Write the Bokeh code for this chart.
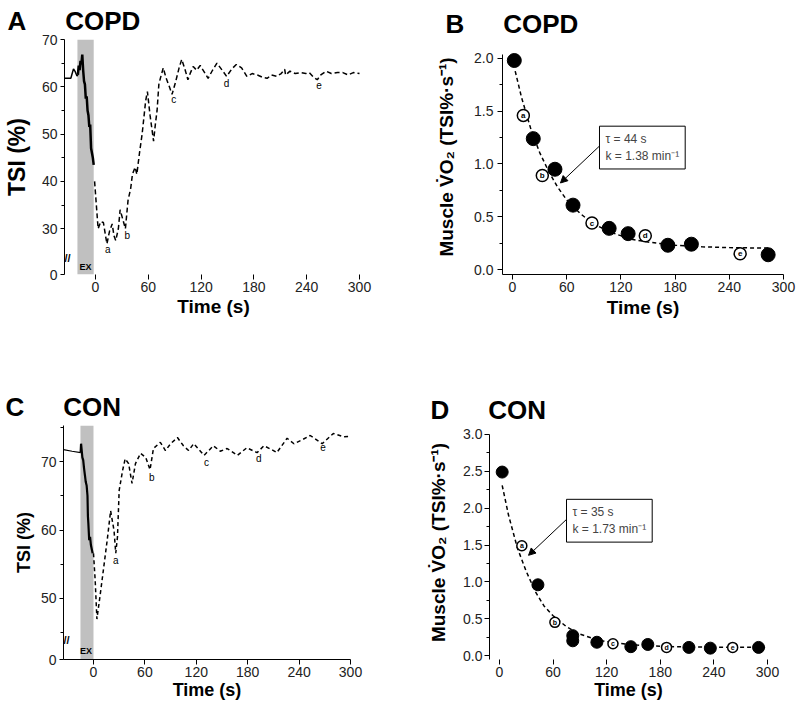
from bokeh.plotting import figure
from bokeh.layouts import column, row
from bokeh.models import (Range1d, FixedTicker, Label, BoxAnnotation, Arrow,
                          NormalHead, NumeralTickFormatter)
from bokeh.embed import file_html
from bokeh.resources import INLINE
from bokeh.core.properties import value

FONT = "Liberation Sans"
GAP = "\u2002\u2002\u2002"

# ---------------- data: panel A (COPD, TSI trace) ----------------
A_pre_t = [-35, -28, -25, -23, -21, -20]
A_pre_v = [61.8, 61.8, 63.8, 63.2, 62.3, 62.5]
A_ex_t = [-20, -19, -18, -17, -16, -15, -14, -13, -12, -11, -10, -9, -8, -7, -6, -5, -4, -3, -2]
A_ex_v = [62.5, 64.5, 63.5, 65.5, 64.8, 66.8, 63.5, 61.2, 60.5, 57.5, 58, 55, 54, 51.5, 52, 47, 46, 45, 43.5]
A_rec_t = [-1, 1, 3, 6, 9, 11, 13, 16, 19, 21,
           23, 26, 28, 31, 34, 37, 40, 42, 45, 47,
           50, 53, 57, 59, 62, 66, 68, 70, 72, 74,
           77, 80, 84, 87, 91, 95, 98, 102, 105, 108,
           111, 115, 119, 124, 128, 133, 138, 144, 149, 155,
           160, 166, 172, 178, 184, 190, 195, 200, 206, 211,
           215, 216, 221, 227, 233, 239, 243, 248, 252, 256,
           262, 268, 275, 281, 287, 293, 300]
A_rec_v = [40, 35, 30, 31.5, 31.3, 29, 26.8, 29.5, 31, 28.5,
           27.5, 30, 34, 32, 30, 36, 38.5, 41.5, 43, 41.5,
           46, 50, 57, 59, 54, 48.5, 52, 55, 60.5, 62,
           64, 62, 60, 58.4, 61, 64, 65.8, 63.5, 61.5, 63,
           64.3, 63.5, 64.5, 63, 61.8, 63.5, 65, 63.5, 62.2, 63.8,
           64.7, 64, 62.2, 62.8, 62.5, 62, 61.8, 62.5, 62.2, 62.8,
           63.7, 62.5, 63.3, 62.8, 63, 62.8, 63, 62, 61.5, 62.5,
           63.3, 62.8, 63, 63, 62.5, 63, 62.8]
A_ex_period = [-20.5, -2]
A_letters = ["a", "b", "c", "d", "e"]
A_letter_t = [14, 36, 89, 149, 254]
A_letter_v = [25.7, 28.5, 57.3, 60.8, 60.3]
A_xticks = [0, 60, 120, 180, 240, 300]
A_yticks = [30, 40, 50, 60, 70]
A_yminor = [35, 45, 55, 65]

# ---------------- data: panel B (COPD, muscle VO2) ----------------
B_fill_t = [2, 23, 47, 67, 107, 128, 172, 198, 283]
B_fill_v = [1.98, 1.24, 0.95, 0.61, 0.39, 0.34, 0.23, 0.24, 0.14]
B_open_t = [12, 33, 88, 147, 252]
B_open_v = [1.46, 0.89, 0.44, 0.32, 0.15]
B_open_lab = ["a", "b", "c", "d", "e"]
B_fit_t = [3, 10, 20, 30, 40, 50, 60, 75, 90, 110, 130, 150, 180, 210, 240, 270, 285]
B_fit_v = [1.88, 1.63, 1.34, 1.11, 0.93, 0.78, 0.66, 0.53, 0.43, 0.35, 0.29, 0.26, 0.23, 0.215, 0.208, 0.204, 0.203]
B_text = "\u03c4 = 44 s\nk = 1.38 min\u207b\u00b9"
B_xticks = [0, 60, 120, 180, 240, 300]
B_yticks = [0.0, 0.5, 1.0, 1.5, 2.0]
B_yminor = [0.25, 0.75, 1.25, 1.75]

# ---------------- data: panel C (CON, TSI trace) ----------------
C_pre_t = [-35, -25, -15]
C_pre_v = [71.75, 71.5, 71.3]
C_ex_t = [-15, -14.5, -13, -12, -11, -10, -9, -8, -7, -6.5, -6, -5, -4, -3, -2, -1]
C_ex_v = [71.3, 72.6, 70.6, 70.2, 69, 68, 67, 66.5, 65, 62, 61, 58.5, 59, 57.8, 57.2, 56.6]
C_rec_t = [0, 2, 4, 8, 12, 16, 20, 24, 26, 28,
           30, 34, 37, 41, 45, 49, 55, 61, 66, 70,
           78, 84, 90, 98, 105, 111, 117, 129, 140, 148,
           156, 168, 179, 191, 199, 207, 214, 226, 234, 244,
           253, 267, 280, 292, 300]
C_rec_v = [56.6, 52.6, 47.0, 50.7, 54.6, 58.5, 62.8, 59.9, 56.6, 59,
           65.8, 68.7, 70.4, 69.7, 66.8, 69.7, 71.2, 70.6, 68.8, 71.9,
           72.8, 71.6, 72.6, 73.5, 72.3, 71.6, 72.6, 70.9, 72.3, 71.5,
           71.9, 70.9, 72, 71.3, 72.3, 71.8, 71.3, 73.4, 72.6, 73.2,
           73.8, 72.6, 74.1, 73.6, 73.7]
C_ex_period = [-15.2, 0]
C_letters = ["a", "b", "c", "d", "e"]
C_letter_t = [26, 68, 132, 193, 268]
C_letter_v = [55.6, 67.7, 69.8, 70.4, 72.1]
C_xticks = [0, 60, 120, 180, 240, 300]
C_yticks = [50, 60, 70]
C_yminor = [45, 55, 65, 75]

# ---------------- data: panel D (CON, muscle VO2) ----------------
D_fill_t = [3, 43, 82, 82, 109, 147, 166, 212, 236, 290]
D_fill_v = [2.49, 0.96, 0.27, 0.20, 0.18, 0.12, 0.15, 0.11, 0.10, 0.11]
D_open_t = [25, 62, 127, 187, 261]
D_open_v = [1.49, 0.45, 0.16, 0.11, 0.11]
D_open_lab = ["a", "b", "c", "d", "e"]
D_fit_t = [3, 10, 20, 30, 40, 50, 60, 75, 90, 110, 130, 160, 200, 250, 300]
D_fit_v = [2.31, 1.91, 1.46, 1.14, 0.87, 0.67, 0.54, 0.39, 0.29, 0.21, 0.17, 0.135, 0.118, 0.112, 0.11]
D_text = "\u03c4 = 35 s\nk = 1.73 min\u207b\u00b9"
D_xticks = [0, 60, 120, 180, 240, 300]
D_yticks = [0.0, 0.5, 1.0, 1.5, 2.0, 2.5, 3.0]
D_yminor = [0.25, 0.75, 1.25, 1.75, 2.25, 2.75]

VO2_LABEL = "Muscle V\u0307O\u2082 (TSI%\u00b7s\u207b\u00b9)"


def base_fig(w, h, bl, br, bt, bb, xr, yr, xticks, yticks, yminor, title, t_off, t_stand,
             x_line=True):
    p = figure(width=w, height=h, x_range=Range1d(*xr), y_range=Range1d(*yr),
               output_backend="svg", toolbar_location=None, title=title,
               min_border_left=bl, min_border_right=br,
               min_border_top=bt, min_border_bottom=bb)
    p.title.align = "left"
    p.title.offset = t_off
    p.title.standoff = t_stand
    p.title.text_font = FONT
    p.title.text_font_size = "26px"
    p.title.text_font_style = "bold"
    p.title.text_color = "black"
    p.outline_line_color = None
    p.xgrid.grid_line_color = None
    p.ygrid.grid_line_color = None
    p.xaxis.ticker = FixedTicker(ticks=xticks)
    p.yaxis.ticker = FixedTicker(ticks=yticks, minor_ticks=yminor)
    for ax in (p.xaxis[0], p.yaxis[0]):
        ax.axis_line_color = "black"
        ax.axis_line_width = 1
        ax.major_tick_in = 0
        ax.major_tick_out = 5
        ax.minor_tick_in = 0
        ax.minor_tick_out = 3
        ax.major_tick_line_color = "black"
        ax.minor_tick_line_color = "black"
        ax.major_label_text_font = FONT
        ax.major_label_text_font_size = "14px"
        ax.major_label_text_color = "#222222"
        ax.axis_label_text_font = FONT
        ax.axis_label_text_font_style = "bold"
        ax.axis_label_text_color = "black"
        ax.major_label_standoff = 3
    p.xaxis.minor_tick_line_color = None
    p.xaxis.major_label_standoff = 2
    if not x_line:
        p.xaxis.axis_line_color = None
    return p


def letters(p, xs, ys, labs, size="10px", bold=False, align="center"):
    p.text(x=xs, y=ys, text=labs, text_font=value(FONT), text_font_size=value(size),
           text_font_style="bold" if bold else "normal",
           text_align=align, text_baseline="middle", text_color="black")


# ================= Panel A =================
A_xr = (-35.2, 303.4)
A_yr = (20.32, 70)
pA = base_fig(400, 348, 64, 38, 38, 74, A_xr, A_yr, A_xticks, [A_yr[0]] + A_yticks, A_yminor,
              "A" + GAP + "COPD", -57, 7, x_line=False)
pA.yaxis.formatter = NumeralTickFormatter(format="0")
pA.yaxis.major_label_overrides = {A_yr[0]: "0"}
pA.xaxis.axis_label = "Time (s)"
pA.yaxis.axis_label = "TSI (%)"
pA.xaxis.axis_label_text_font_size = "19px"
pA.yaxis.axis_label_text_font_size = "23px"
pA.xaxis.axis_label_standoff = 1
pA.yaxis.axis_label_standoff = 9
pA.yaxis.major_tick_out = 4
pA.add_layout(BoxAnnotation(left=A_ex_period[0], right=A_ex_period[1], fill_color="#c0c0c0",
                            fill_alpha=1, line_color=None, level="underlay"))
pA.line(A_pre_t, A_pre_v, line_color="black", line_width=1.5)
pA.line(A_ex_t, A_ex_v, line_color="black", line_width=2.5)
pA.line(A_rec_t, A_rec_v, line_color="black", line_width=1.5, line_dash="5 3")
letters(pA, A_letter_t, A_letter_v, A_letters)
letters(pA, [-11.4], [22.0], ["EX"], size="9px", bold=True)
letters(pA, [A_xr[0]], [23.9], ["//"], size="11px", bold=True, align="left")

# ================= Panel B =================
B_yr = (-0.047, 2.179)
pB = base_fig(400, 348, 102, 17, 38, 74, (-11.07, 300), B_yr, B_xticks, B_yticks, B_yminor,
              "B" + GAP + "COPD", -57, 1, x_line=True)
pB.yaxis.bounds = (B_yr[0], 2.038)
pB.yaxis.formatter = NumeralTickFormatter(format="0.0")
pB.xaxis.axis_label = "Time (s)"
pB.yaxis.axis_label = VO2_LABEL
pB.xaxis.axis_label_text_font_size = "19px"
pB.yaxis.axis_label_text_font_size = "19px"
pB.xaxis.axis_label_standoff = 2
pB.yaxis.axis_label_standoff = 14
pB.yaxis.major_label_standoff = 4
pB.line(B_fit_t, B_fit_v, line_color="black", line_width=1.5, line_dash="4 3")
pB.scatter(B_fill_t, B_fill_v, size=14, marker="circle", fill_color="black", line_color="black")
pB.scatter(B_open_t, B_open_v, size=12, marker="circle", fill_color="white",
           line_color="black", line_width=1.5)
letters(pB, B_open_t, B_open_v, B_open_lab, size="8px", bold=True)
pB.add_layout(Arrow(end=NormalHead(size=7, fill_color="black", line_color="black"),
                    x_start=96.3, y_start=1.17, x_end=53.1, y_end=0.82,
                    line_color="black", line_width=1))
pB.add_layout(Label(x=96.3, y=1.358, text=B_text, text_font=FONT, text_font_size="12px",
                    text_align="left", text_baseline="top", border_line_color="black",
                    border_line_width=1, background_fill_color="white", padding=6))

# ================= Panel C =================
C_yr = (41.09, 75.26)
pC = base_fig(400, 360, 63, 50, 77, 49, (-35, 300), C_yr, C_xticks, [C_yr[0]] + C_yticks, C_yminor,
              "C" + GAP + "CON", -58, 8, x_line=True)
pC.yaxis.formatter = NumeralTickFormatter(format="0")
pC.yaxis.major_label_overrides = {C_yr[0]: "0"}
pC.xaxis.axis_label = "Time (s)"
pC.yaxis.axis_label = "TSI (%)"
pC.xaxis.axis_label_text_font_size = "18px"
pC.yaxis.axis_label_text_font_size = "18px"
pC.xaxis.axis_label_standoff = 0
pC.yaxis.axis_label_standoff = 4
pC.yaxis.major_tick_out = 4
pC.add_layout(BoxAnnotation(left=C_ex_period[0], right=C_ex_period[1], fill_color="#c0c0c0",
                            fill_alpha=1, line_color=None, level="underlay"))
pC.line(C_pre_t, C_pre_v, line_color="black", line_width=1.2)
pC.line(C_ex_t, C_ex_v, line_color="black", line_width=2.2)
pC.line(C_rec_t, C_rec_v, line_color="black", line_width=1.5, line_dash="4 3")
letters(pC, C_letter_t, C_letter_v, C_letters)
letters(pC, [-8.75], [42.3], ["EX"], size="9px", bold=True)
letters(pC, [-35], [43.87], ["//"], size="11px", bold=True, align="left")

# ================= Panel D =================
D_yr = (-0.054, 3.122)
pD = base_fig(400, 360, 89, 33, 77, 49, (-11.2, 300), D_yr, D_xticks, D_yticks, D_yminor,
              "D" + GAP + "CON", -59, 1, x_line=False)
pD.yaxis.bounds = (D_yr[0], 3.0)
pD.yaxis.formatter = NumeralTickFormatter(format="0.0")
pD.xaxis.axis_label = "Time (s)"
pD.yaxis.axis_label = VO2_LABEL
pD.xaxis.axis_label_text_font_size = "18px"
pD.yaxis.axis_label_text_font_size = "19px"
pD.xaxis.axis_label_standoff = 0
pD.yaxis.axis_label_standoff = 11
pD.yaxis.major_label_standoff = 2
pD.line(D_fit_t, D_fit_v, line_color="black", line_width=1.5, line_dash="4 3")
pD.scatter(D_fill_t, D_fill_v, size=12, marker="circle", fill_color="black", line_color="black")
pD.scatter(D_open_t, D_open_v, size=10, marker="circle", fill_color="white",
           line_color="black", line_width=1.5)
letters(pD, D_open_t, D_open_v, D_open_lab, size="7px", bold=True)
pD.add_layout(Arrow(end=NormalHead(size=7, fill_color="black", line_color="black"),
                    x_start=76.1, y_start=1.86, x_end=32.5, y_end=1.36,
                    line_color="black", line_width=1))
pD.add_layout(Label(x=75, y=2.12, text=D_text, text_font=FONT, text_font_size="12px",
                    text_align="left", text_baseline="top", border_line_color="black",
                    border_line_width=1, background_fill_color="white", padding=6))

layout = column(row(pA, pB), row(pC, pD))
open("out.html", "w").write(file_html(layout, INLINE))
